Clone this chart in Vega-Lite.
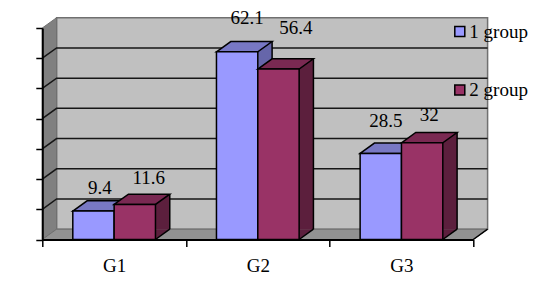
{"$schema":"https://vega.github.io/schema/vega-lite/v6.json","width":431,"height":211.5,"autosize":{"type":"none"},"padding":{"left":42.3,"top":28,"right":68.7,"bottom":43.5},"background":"white",
"config":{"view":{"stroke":null},"font":"Liberation Serif"},
"data":{"values":[{"group":"G1","series":"1 group","value":9.4},{"group":"G1","series":"2 group","value":11.6},{"group":"G2","series":"1 group","value":62.1},{"group":"G2","series":"2 group","value":56.4},{"group":"G3","series":"1 group","value":28.5},{"group":"G3","series":"2 group","value":32}]},
"encoding":{
"x":{"field":"group","type":"nominal","scale":{"type":"band","domain":["G1","G2","G3"],"paddingInner":0,"paddingOuter":0},"title":null,"axis":{"tickBand":"extent","labelAngle":0,"labelFontSize":19,"labelFont":"Liberation Serif","labelColor":"black","tickSize":7,"tickColor":"black","tickWidth":1.5,"domainColor":"black","domainWidth":2,"labelPadding":10,"zindex":1}},
"y":{"field":"value","type":"quantitative","scale":{"domain":[0,70],"nice":false,"zero":true},"title":null,"axis":{"values":[0,10,20,30,40,50,60,70],"labels":false,"tickSize":6.5,"tickColor":"black","tickWidth":1.5,"domainColor":"black","domainWidth":2,"grid":false,"zindex":1}}
},
"layer":[
{"data":{"values":[{"group":"G1","value":0}]},"mark":{"type":"point","filled":true,"opacity":1,"size":4,"shape":"M14.3 -10.3 H445.3 V-221.8 H14.3 Z","fill":"#c0c0c0","stroke":"#707070","strokeWidth":1.5},"encoding":{"x":{"field":"group","type":"nominal","bandPosition":0}}},
{"data":{"values":[{"group":"G1","value":0}]},"mark":{"type":"point","filled":true,"opacity":1,"size":4,"shape":"M0 0 L14.3 -10.3 V-221.8 L0 -211.5 Z","fill":"#808080","stroke":"#707070","strokeWidth":1},"encoding":{"x":{"field":"group","type":"nominal","bandPosition":0}}},
{"data":{"values":[{"group":"G1","value":0}]},"mark":{"type":"point","filled":true,"opacity":1,"size":4,"shape":"M0 0 L14.3 -10.3 H445.3 L431 0 Z","fill":"#929292","stroke":"#707070","strokeWidth":1},"encoding":{"x":{"field":"group","type":"nominal","bandPosition":0}}},
{"data":{"values":[{"group":"G1","value":0}]},"mark":{"type":"point","filled":false,"opacity":1,"size":4,"shape":"M431 0 L445.3 -10.3","stroke":"black","strokeWidth":1.5},"encoding":{"x":{"field":"group","type":"nominal","bandPosition":0}}},
{"data":{"values":[{"group":"G1","value":10},{"group":"G1","value":20},{"group":"G1","value":30},{"group":"G1","value":40},{"group":"G1","value":50},{"group":"G1","value":60}]},"mark":{"type":"point","filled":false,"opacity":1,"size":4,"shape":"M0 0 L14.3 -10.3 H445.3","stroke":"#161616","strokeWidth":1.5},"encoding":{"x":{"field":"group","type":"nominal","bandPosition":0}}},

{"transform":[{"filter":"datum.series=='1 group'"}],"mark":{"type":"bar","width":41.33,"fill":"#6666aa","xOffset":-6.37,"yOffset":-10.3,"y2Offset":-10.3},"encoding":{"y2":{"datum":0}}},
{"transform":[{"filter":"datum.series=='1 group'"}],"mark":{"type":"point","filled":true,"opacity":1,"size":4,"shape":"M0 0 L14.3 -10.3 L0 -10.3 Z","fill":"#6666aa","stroke":null},"encoding":{"y":{"datum":0}}},
{"transform":[{"filter":"datum.series=='1 group'"}],"mark":{"type":"point","filled":false,"opacity":1,"size":4,"shape":"M0 0 L14.3 -10.3","stroke":"black","strokeWidth":1.5},"encoding":{"y":{"datum":0}}},
{"transform":[{"filter":"datum.series=='1 group'"}],"mark":{"type":"rule","stroke":"black","strokeWidth":1.5,"xOffset":14.3,"yOffset":-10.3,"y2Offset":-10.3},"encoding":{"y2":{"datum":0}}},
{"transform":[{"filter":"datum.series=='1 group'"}],"mark":{"type":"point","filled":true,"opacity":1,"size":4,"shape":"M-41.33 0 L-27.03 -10.3 H14.3 L0 0 Z","fill":"#7878c4","stroke":"black","strokeWidth":1.5}},
{"transform":[{"filter":"datum.series=='1 group'"}],"mark":{"type":"bar","width":41.33,"xOffset":-20.67,"stroke":"black","strokeWidth":1.5},"encoding":{"y2":{"datum":0},"color":{"field":"series","type":"nominal","scale":{"domain":["1 group","2 group"],"range":["#9999ff","#993366"]},"legend":{"title":null,"orient":"none","legendX":408,"legendY":-6,"padding":0,"symbolType":"square","symbolSize":100,"symbolStrokeColor":"black","symbolStrokeWidth":1.5,"symbolOpacity":1,"labelFontSize":19,"labelFont":"Liberation Serif","labelColor":"black","rowPadding":38.5,"labelOffset":0,"labelLimit":100}}}},

{"transform":[{"filter":"datum.series=='2 group'"}],"mark":{"type":"bar","width":41.33,"fill":"#5c1f3d","xOffset":34.97,"yOffset":-10.3,"y2Offset":-10.3},"encoding":{"y2":{"datum":0}}},
{"transform":[{"filter":"datum.series=='2 group'"}],"mark":{"type":"point","filled":true,"opacity":1,"size":4,"shape":"M41.33 0 L55.63 -10.3 L41.33 -10.3 Z","fill":"#5c1f3d","stroke":null},"encoding":{"y":{"datum":0}}},
{"transform":[{"filter":"datum.series=='2 group'"}],"mark":{"type":"point","filled":false,"opacity":1,"size":4,"shape":"M41.33 0 L55.63 -10.3","stroke":"black","strokeWidth":1.5},"encoding":{"y":{"datum":0}}},
{"transform":[{"filter":"datum.series=='2 group'"}],"mark":{"type":"rule","stroke":"black","strokeWidth":1.5,"xOffset":55.63,"yOffset":-10.3,"y2Offset":-10.3},"encoding":{"y2":{"datum":0}}},
{"transform":[{"filter":"datum.series=='2 group'"}],"mark":{"type":"point","filled":true,"opacity":1,"size":4,"shape":"M0 0 L14.3 -10.3 H55.63 L41.33 0 Z","fill":"#7a2952","stroke":"black","strokeWidth":1.5}},
{"transform":[{"filter":"datum.series=='2 group'"}],"mark":{"type":"bar","width":41.33,"xOffset":20.67,"stroke":"black","strokeWidth":1.5},"encoding":{"y2":{"datum":0},"color":{"field":"series","type":"nominal"}}},

{"transform":[{"filter":"datum.group=='G1'&&datum.series=='1 group'"}],"mark":{"type":"text","fontSize":19,"font":"Liberation Serif","fill":"black","baseline":"alphabetic","align":"center","dx":-14.17,"dy":-17.5},"encoding":{"text":{"field":"value"}}},
{"transform":[{"filter":"datum.group=='G1'&&datum.series=='2 group'"}],"mark":{"type":"text","fontSize":19,"font":"Liberation Serif","fill":"black","baseline":"alphabetic","align":"center","dx":34.67,"dy":-20},"encoding":{"text":{"field":"value"}}},
{"transform":[{"filter":"datum.group=='G2'&&datum.series=='1 group'"}],"mark":{"type":"text","fontSize":19,"font":"Liberation Serif","fill":"black","baseline":"alphabetic","align":"center","dx":-10.67,"dy":-28},"encoding":{"text":{"field":"value"}}},
{"transform":[{"filter":"datum.group=='G2'&&datum.series=='2 group'"}],"mark":{"type":"text","fontSize":19,"font":"Liberation Serif","fill":"black","baseline":"alphabetic","align":"center","dx":38.17,"dy":-35},"encoding":{"text":{"field":"value"}}},
{"transform":[{"filter":"datum.group=='G3'&&datum.series=='1 group'"}],"mark":{"type":"text","fontSize":19,"font":"Liberation Serif","fill":"black","baseline":"alphabetic","align":"center","dx":-15.67,"dy":-26},"encoding":{"text":{"field":"value"}}},
{"transform":[{"filter":"datum.group=='G3'&&datum.series=='2 group'"}],"mark":{"type":"text","fontSize":19,"font":"Liberation Serif","fill":"black","baseline":"alphabetic","align":"center","dx":27.67,"dy":-22},"encoding":{"text":{"field":"value"}}}
]}
